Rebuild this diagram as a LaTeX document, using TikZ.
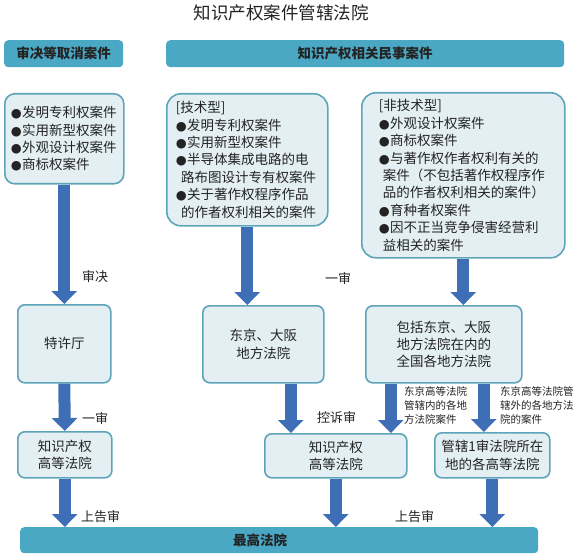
\documentclass[tikz,border=0pt]{standalone}
\usepackage{fontspec}
\setmainfont{Noto Sans CJK SC}
\newfontfamily\bulletfont{DejaVu Sans}
\usetikzlibrary{arrows.meta}

\definecolor{headfill}{RGB}{74,168,196}
\definecolor{boxline}{RGB}{94,164,184}
\definecolor{boxfill}{RGB}{228,239,244}
\definecolor{flowblue}{RGB}{62,110,182}
\definecolor{inktext}{RGB}{35,35,35}

\newcommand{\casedot}{{\bulletfont\fontsize{12.5}{12}\selectfont ●}\kern0.5pt}
\newcommand{\casefont}{\fontsize{13.5}{17.4}\selectfont}

\begin{document}
\begin{tikzpicture}[x=1pt, y=-1pt, text=inktext,
    headbox/.style={fill=headfill, rounded corners=4pt, anchor=north west, inner sep=0pt, font=\bfseries\fontsize{13.5}{16}\selectfont},
    headtext/.style={font=\bfseries\fontsize{13.5}{16}\selectfont},
    casebox/.style={draw=boxline, fill=boxfill, line width=1.6pt, rounded corners=10pt, align=left, anchor=north west, inner ysep=0pt, font=\casefont},
    courtbox/.style={draw=boxline, fill=boxfill, line width=1.6pt, rounded corners=7pt, align=center, anchor=north west, inner sep=0pt, font=\casefont},
    flow/.style={draw=flowblue, line width=12pt, -{Triangle[width=25pt, length=13pt]}},
    steplabel/.style={anchor=west, inner sep=0pt, font=\fontsize{13}{15}\selectfont},
    notelabel/.style={anchor=north west, inner sep=0pt, align=left, font=\fontsize{10.5}{14}\selectfont}]

    \useasboundingbox (0,0) rectangle (578,556);

    % Title
    \node (title) at (281,13) {\fontsize{17.5}{20}\selectfont 知识产权案件管辖法院};

    % Headers
    \node[headbox, minimum width=119pt, minimum height=27pt] (revoke) at (4,40) {审决等取消案件};
    \node[headbox, minimum width=398pt, minimum height=27pt] (civil) at (166,40) {知识产权相关民事案件};

    % Cases
    \node[casebox, text width=107pt, inner xsep=6pt, minimum height=90pt] (patents) at (4,93)
        {\casedot 发明专利权案件\\ \casedot 实用新型权案件\\ \casedot 外观设计权案件\\ \casedot 商标权案件};
    \node[casebox, text width=143pt, inner xsep=9pt, minimum height=132pt, rounded corners=14pt] (tech) at (166,93)
        {[技术型]\\ \casedot 发明专利权案件\\ \casedot 实用新型权案件\\ \casedot 半导体集成电路的电\\
         \hspace*{0.4em}路布图设计专有权案件\\ \casedot 关于著作权程序作品\\ \hspace*{0.4em}的作者权利相关的案件};
    \node[casebox, text width=169pt, inner xsep=17pt, minimum height=165pt, rounded corners=14pt] (nontech) at (361,92)
        {[非技术型]\\ \casedot 外观设计权案件\\ \casedot 商标权案件\\ \casedot 与著作权作者权利有关的\\
         \hspace*{0.3em}案件（不包括著作权程序作\\ \hspace*{0.3em}品的作者权利相关的案件）\\
         \casedot 育种者权案件\\ \casedot 因不正当竞争侵害经营利\\ \hspace*{0.3em}益相关的案件};

    % Courts
    \node[courtbox, minimum width=93pt, minimum height=78pt] (jpo) at (17,304) {特许厅};
    \node[courtbox, minimum width=121pt, minimum height=77pt] (tokyo) at (202,305) {东京、大阪\\地方法院};
    \node[courtbox, minimum width=156pt, minimum height=77pt] (allcourts) at (365,305) {包括东京、大阪\\地方法院在内的\\全国各地方法院};
    \node[courtbox, minimum width=94pt, minimum height=46pt] (iphcL) at (17,431) {知识产权\\高等法院};
    \node[courtbox, minimum width=142pt, minimum height=44pt] (iphcM) at (264,433) {知识产权\\高等法院};
    \node[courtbox, minimum width=115pt, minimum height=45pt] (highct) at (434,432) {管辖1审法院所在\\地的各高等法院};
    \node[headbox, minimum width=518pt, minimum height=26pt] (supreme) at (20,527) {};
    \node[headtext] (supremename) at ([xshift=-19pt]supreme.center) {最高法院};

    % Arrows
    \draw[flow] (patents.south) -- (jpo.north);
    \draw[flow] (tech.south) -- (tech.south |- tokyo.north);
    \draw[flow] (nontech.south) -- (nontech.south |- allcourts.north);
    \draw[flow] (jpo.south) -- (iphcL.north);
    \draw[flow] ([xshift=27.5pt]tokyo.south) -- ([xshift=27.5pt]tokyo.south |- iphcM.north);
    \draw[flow] ([xshift=-53pt]allcourts.south) -- ([xshift=-53pt]allcourts.south |- iphcM.north);
    \draw[flow] ([xshift=40pt]allcourts.south) -- ([xshift=40pt]allcourts.south |- highct.north);
    \draw[flow] (iphcL.south) -- (iphcL.south |- supreme.north);
    \draw[flow] (iphcM.south) -- (iphcM.south |- supreme.north);
    \draw[flow] (highct.south) -- (highct.south |- supreme.north);

    % Labels
    \node[steplabel] (trialjpo) at (82,277) {审决};
    \node[steplabel] (firstcivil) at (325,279) {一审};
    \node[steplabel] (firstjpo) at (82,418) {一审};
    \node[steplabel] (appeal) at (317,417) {控诉审};
    \node[steplabel] (finalL) at (81,517) {上告审};
    \node[steplabel] (finalR) at (395,517) {上告审};
    \node[notelabel] (inside) at (404,386) {东京高等法院\\管辖内的各地\\方法院案件};
    \node[notelabel] (outside) at (500,386) {东京高等法院管\\辖外的各地方法\\院的案件};

\end{tikzpicture}
\end{document}
